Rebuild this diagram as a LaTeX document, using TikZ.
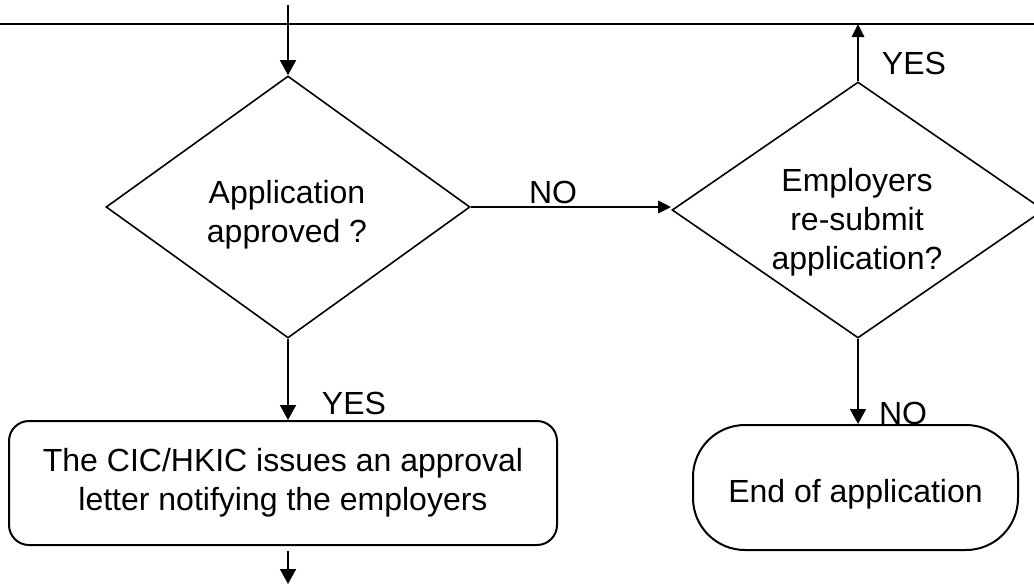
\documentclass[tikz,border=0pt]{standalone}
\usepackage{fontspec}
\setmainfont{Liberation Sans}
\usetikzlibrary{shapes.geometric,arrows.meta}
\begin{document}
\begin{tikzpicture}[x=0.5pt,y=-0.5pt,
  txt/.style={font=\fontsize{16}{19.5}\selectfont, align=center, inner sep=0pt},
  dec/.style={diamond, draw, line width=0.8pt, inner sep=0pt},
  procbox/.style={draw, line width=1pt, rounded corners=10pt, minimum width=274pt, minimum height=62pt, inner sep=0pt},
  endbox/.style={draw, line width=1pt, rounded corners=26pt, minimum width=162.5pt, minimum height=62.5pt, inner sep=0pt},
  thinarrow/.style={line width=0.8pt, -{Triangle[length=7.5pt,width=8pt]}},
  thickarrow/.style={line width=1.4pt, -{Triangle[length=6.5pt,width=6pt]}},
  lbl/.style={font=\fontsize{16}{19.5}\selectfont, inner sep=0pt}
]
\clip (0,0) rectangle (1034,584);
% top line
\coordinate (tl) at (0,24);
\coordinate (tr) at (1034,24);
\draw[line width=1pt] (tl) -- (tr);
% decisions
\node[dec, minimum width=182pt, minimum height=131pt] (d1) at (288,207) {};
\node[txt] (t1) at (287,215) {Application\\approved ?};
\node[dec, minimum width=186pt, minimum height=128pt] (d2) at (858,210) {};
\node[txt] (t2) at (857,222) {Employers\\re-submit\\application?};
% boxes
\node[procbox, txt, rounded corners=10pt] (b1) at (283,483) {The CIC/HKIC issues an approval\\letter notifying the employers};
\node[endbox, txt, rounded corners=26pt, text height=18.2pt, text depth=3.4pt] (b2) at (855.5,487.5) {End of application};
% connectors
\coordinate (start) at (288,5);
\coordinate (endb) at (288,584);
\draw[thinarrow] (start) -- (d1.north);
\draw[thickarrow] (d1.east) -- (d1.east -| d2.west);
\node[lbl] (no1) at (553,192) {NO};
\draw[thickarrow] (d2.north) -- (d2.north |- tl);
\node[lbl] (yes2) at (914,63) {YES};
\draw[thinarrow] (d1.south) -- (d1.south |- b1.north);
\node[lbl] (yes1) at (354,403) {YES};
\draw[thinarrow] (d2.south) -- (d2.south |- b2.north);
\node[lbl] (no2) at (903,413) {NO};
\draw[thinarrow] ([yshift=-2.5pt]b1.south -| endb) -- (endb);
\end{tikzpicture}
\end{document}
